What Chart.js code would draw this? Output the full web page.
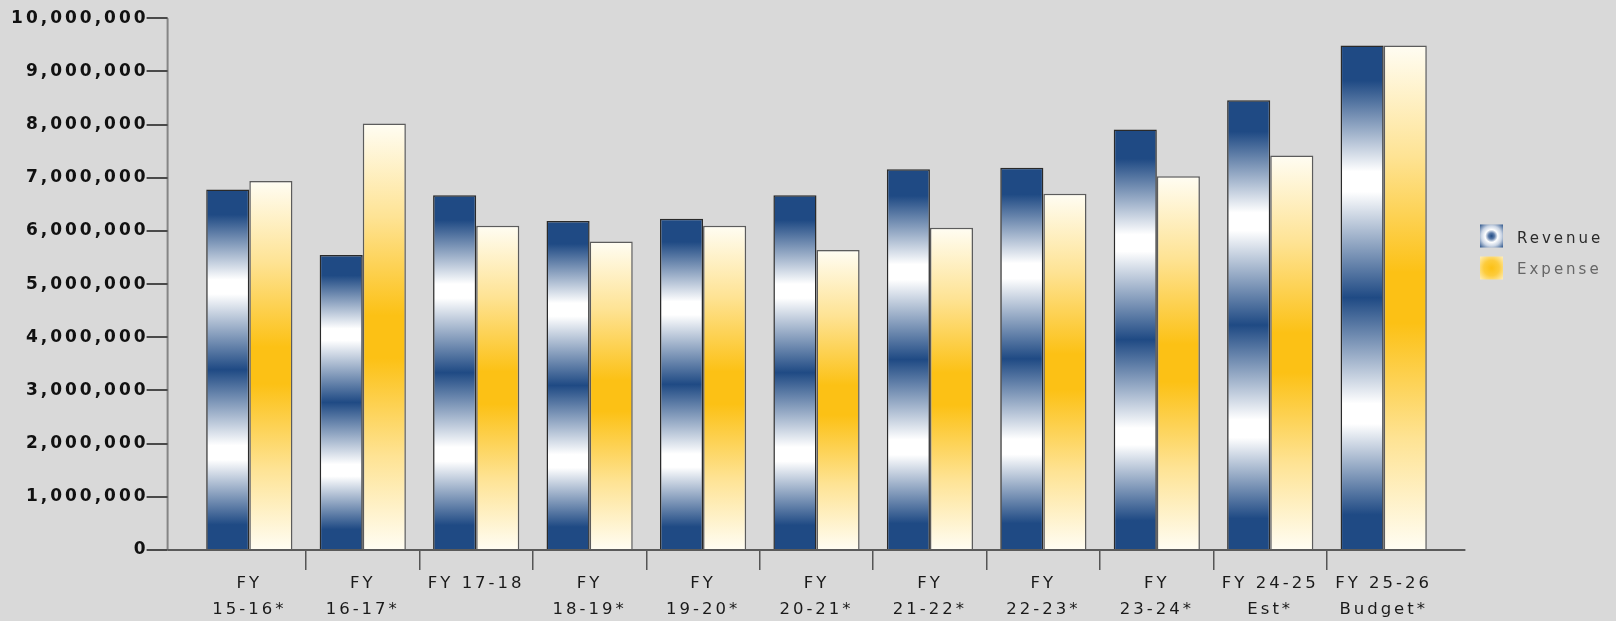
<!DOCTYPE html>
<html lang="en">
<head>
    <meta charset="UTF-8">
    <title>Revenue and Expense</title>
    <style>
        body {
            margin: 0;
            padding: 0;
            background-color: #d9d9d9;
        }

        #chart {
            display: block;
        }
    </style>
</head>
<body>
    <canvas id="chart" width="1616" height="621"></canvas>

    <script src="https://cdn.jsdelivr.net/npm/chart.js"></script>
    <script>
        // Fiscal years
        const categories = [
            ['FY', '15-16*'], ['FY', '16-17*'], 'FY 17-18', ['FY', '18-19*'],
            ['FY', '19-20*'], ['FY', '20-21*'], ['FY', '21-22*'], ['FY', '22-23*'],
            ['FY', '23-24*'], ['FY 24-25', 'Est*'], ['FY 25-26', 'Budget*']
        ];
        const revenue = [6780000, 5550000, 6670000, 6190000, 6230000, 6670000, 7160000, 7190000, 7910000, 8460000, 9490000];
        const expense = [6940000, 8020000, 6100000, 5800000, 6100000, 5640000, 6060000, 6700000, 7030000, 7420000, 9490000];
        const yMin = 0;
        const yMax = 10000000;
        const yStep = 1000000;
        const seriesNames = ['Revenue', 'Expense'];

        const NAVY = '#1f4a84';
        const GOLD = '#fcc115';
        const AXIS_GAP = 25;

        // gradient running from the base of the bar to its top
        function barGradient(context, stops, fallback) {
            const chart = context.chart;
            if (!chart.chartArea || context.type !== 'data') return fallback;
            const y = chart.scales.y;
            const top = y.getPixelForValue(context.raw);
            const base = y.getPixelForValue(0);
            const g = chart.ctx.createLinearGradient(0, base, 0, top);
            stops.forEach(s => g.addColorStop(s[0], s[1]));
            return g;
        }

        const revenueStops = [
            [0, NAVY], [0.07, NAVY], [0.25, '#ffffff'], [0.29, '#ffffff'], [0.5, NAVY],
            [0.71, '#ffffff'], [0.75, '#ffffff'], [0.93, NAVY], [1, NAVY]
        ];
        const expenseStops = [
            [0, '#fffdf3'], [0.22, '#fee394'], [0.45, GOLD], [0.55, GOLD], [0.78, '#fee394'], [1, '#fffdf3']
        ];

        // wide lettering like the original
        const spacing = {
            id: 'spacing',
            beforeUpdate(chart) { chart.ctx.letterSpacing = '3px'; },
            beforeDraw(chart) { chart.ctx.letterSpacing = '3px'; }
        };

        // axis lines sit a bit outside the category band
        const axisLines = {
            id: 'axisLines',
            afterDraw(chart) {
                const { ctx, scales: { x, y } } = chart;
                const left = x.left - AXIS_GAP;
                const right = x.right + AXIS_GAP;
                ctx.save();
                ctx.lineWidth = 2;
                ctx.strokeStyle = '#858585';
                ctx.beginPath();
                ctx.moveTo(left, y.top);
                ctx.lineTo(left, y.bottom);
                ctx.stroke();
                ctx.strokeStyle = '#4a4a4a';
                y.ticks.forEach(t => {
                    const py = Math.round(y.getPixelForValue(t.value));
                    ctx.beginPath();
                    ctx.moveTo(left - 21, py);
                    ctx.lineTo(left, py);
                    ctx.stroke();
                });
                ctx.strokeStyle = '#5a5a5a';
                ctx.beginPath();
                ctx.moveTo(left, y.bottom);
                ctx.lineTo(right, y.bottom);
                ctx.stroke();
                ctx.restore();
            }
        };

        // legend on the right
        const sideLegend = {
            id: 'sideLegend',
            afterDraw(chart) {
                const ctx = chart.ctx;
                const ix = 1480, size = 23;
                const rows = [239, 270];
                ctx.save();
                ctx.letterSpacing = '3px';
                ctx.font = '15px "DejaVu Sans"';
                ctx.textBaseline = 'middle';

                // revenue icon
                let cy = rows[0] - 3;
                let g = ctx.createRadialGradient(ix + size / 2, cy, 0, ix + size / 2, cy, size * 0.72);
                g.addColorStop(0, NAVY);
                g.addColorStop(0.18, '#5a7aa8');
                g.addColorStop(0.38, '#ffffff');
                g.addColorStop(0.62, '#c8d3e3');
                g.addColorStop(1, NAVY);
                ctx.fillStyle = g;
                ctx.fillRect(ix, cy - size / 2, size, size);

                // expense icon
                cy = rows[1] - 2;
                g = ctx.createRadialGradient(ix + size / 2, cy, 0, ix + size / 2, cy, size * 0.75);
                g.addColorStop(0, GOLD);
                g.addColorStop(0.45, '#fdcc3c');
                g.addColorStop(1, '#fff3cc');
                ctx.fillStyle = g;
                ctx.fillRect(ix, cy - size / 2, size, size);

                ctx.fillStyle = '#2a2a2a';
                ctx.fillText(seriesNames[0], 1517, rows[0]);
                ctx.fillStyle = '#666666';
                ctx.fillText(seriesNames[1], 1517, rows[1]);
                ctx.restore();
            }
        };

        const ctx = document.getElementById('chart').getContext('2d');
        const chart = new Chart(ctx, {
            type: 'bar',
            data: {
                labels: categories,
                datasets: [{
                    label: seriesNames[0],
                    data: revenue,
                    backgroundColor: c => barGradient(c, revenueStops, NAVY),
                    borderColor: '#2a2a2a',
                    borderWidth: 1.5,
                    borderSkipped: 'bottom'
                }, {
                    label: seriesNames[1],
                    data: expense,
                    backgroundColor: c => barGradient(c, expenseStops, GOLD),
                    borderColor: '#5c5c5c',
                    borderWidth: 1.5,
                    borderSkipped: 'bottom'
                }]
            },
            options: {
                responsive: false,
                animation: false,
                events: [],
                devicePixelRatio: 1,
                layout: {
                    padding: { top: 18.3, right: 175.6, bottom: 0, left: 0 }
                },
                categoryPercentage: 0.76,
                barPercentage: 1.0,
                plugins: {
                    legend: { display: false },
                    tooltip: { enabled: false }
                },
                scales: {
                    x: {
                        afterFit: scale => { scale.height = 71; },
                        border: { display: false },
                        // separators only between categories, not at the two ends
                        grid: {
                            drawOnChartArea: false,
                            drawTicks: true,
                            tickLength: 20,
                            lineWidth: 1.5,
                            color: c => (c.type !== 'tick' || c.index === 0) ? 'rgba(0,0,0,0)' : '#555555'
                        },
                        ticks: {
                            color: '#1a1a1a',
                            padding: 1,
                            maxRotation: 0,
                            autoSkip: false,
                            font: { family: '"DejaVu Sans"', size: 16.5, lineHeight: 1.55 }
                        }
                    },
                    y: {
                        min: yMin,
                        max: yMax,
                        afterFit: scale => { scale.width = 192.6; },
                        border: { display: false },
                        // invisible tick marks only push the labels left
                        grid: {
                            display: true,
                            drawOnChartArea: false,
                            drawTicks: true,
                            tickLength: 44,
                            color: 'rgba(0,0,0,0)'
                        },
                        ticks: {
                            stepSize: yStep,
                            padding: 0,
                            color: '#111111',
                            font: { family: '"DejaVu Sans"', size: 17, weight: 'bold' },
                            callback: v => v.toLocaleString('en-US')
                        }
                    }
                }
            },
            plugins: [spacing, axisLines, sideLegend]
        });
    </script>
</body>
</html>
